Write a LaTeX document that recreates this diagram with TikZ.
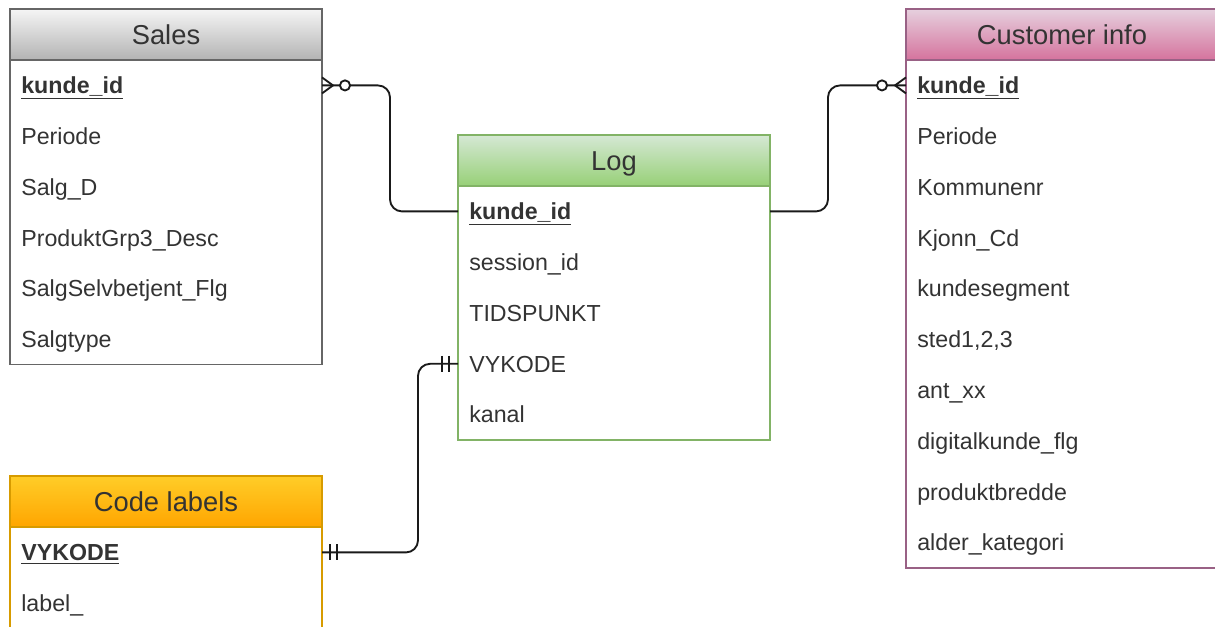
\documentclass[tikz,border=0pt]{standalone}
\usepackage{fontspec}
\setmainfont{Liberation Sans}
\usetikzlibrary{calc}
\definecolor{txt}{HTML}{333333}
\definecolor{salesTop}{HTML}{F5F5F5}
\definecolor{salesBot}{HTML}{B3B3B3}
\definecolor{salesLine}{HTML}{666666}
\definecolor{custTop}{HTML}{E6D0DE}
\definecolor{custBot}{HTML}{D5739D}
\definecolor{custLine}{HTML}{996185}
\definecolor{logTop}{HTML}{D5E8D4}
\definecolor{logBot}{HTML}{97D077}
\definecolor{logLine}{HTML}{82B366}
\definecolor{codeTop}{HTML}{FFCD28}
\definecolor{codeBot}{HTML}{FFA500}
\definecolor{codeLine}{HTML}{D79B00}
\definecolor{connCol}{HTML}{1A1A1A}
\tikzset{
  hdr/.style={anchor=north west, minimum width=234pt, minimum height=38.25pt,
    inner sep=0pt, outer sep=0pt, text=txt, font=\fontsize{20.5pt}{24pt}\selectfont,
    text height=14.7pt, text depth=0pt, line width=1pt},
  row/.style={anchor=north west, minimum width=234pt, minimum height=38.1pt,
    inner xsep=8.5pt, inner ysep=0pt, outer sep=0pt, text width=217pt, align=left, text=txt,
    text height=12.5pt, text depth=0pt,
    font=\fontsize{17.4pt}{20pt}\selectfont},
  boxline/.style={line width=1pt},
  conn/.style={draw=connCol, line width=1.4pt, rounded corners=9pt},
  erdmark/.style={draw=connCol, line width=1.4pt},
}
\newcommand{\pk}[1]{\textbf{\underline{#1}}}
\begin{document}
\begin{tikzpicture}[x=0.75pt,y=-0.75pt]
\useasboundingbox (0,0) rectangle (1215,626);

% ---------- Sales ----------
\node[hdr, top color=salesTop, bottom color=salesBot, draw=salesLine] (sales-h) at (10,9) {Sales};
\node[row] (sales-r1) at (sales-h.south west) {\pk{kunde\_id}};
\node[row] (sales-r2) at (sales-r1.south west) {Periode};
\node[row] (sales-r3) at (sales-r2.south west) {Salg\_D};
\node[row] (sales-r4) at (sales-r3.south west) {ProduktGrp3\_Desc};
\node[row] (sales-r5) at (sales-r4.south west) {SalgSelvbetjent\_Flg};
\node[row] (sales-r6) at (sales-r5.south west) {Salgtype};
\draw[boxline, draw=salesLine] (sales-h.north west) rectangle (sales-r6.south east);

% ---------- Customer info ----------
\node[hdr, top color=custTop, bottom color=custBot, draw=custLine] (cust-h) at (906,9) {Customer info};
\node[row] (cust-r1) at (cust-h.south west) {\pk{kunde\_id}};
\node[row] (cust-r2) at (cust-r1.south west) {Periode};
\node[row] (cust-r3) at (cust-r2.south west) {Kommunenr};
\node[row] (cust-r4) at (cust-r3.south west) {Kjonn\_Cd};
\node[row] (cust-r5) at (cust-r4.south west) {kundesegment};
\node[row] (cust-r6) at (cust-r5.south west) {sted1,2,3};
\node[row] (cust-r7) at (cust-r6.south west) {ant\_xx};
\node[row] (cust-r8) at (cust-r7.south west) {digitalkunde\_flg};
\node[row] (cust-r9) at (cust-r8.south west) {produktbredde};
\node[row] (cust-r10) at (cust-r9.south west) {alder\_kategori};
\draw[boxline, draw=custLine] (cust-h.north west) rectangle (cust-r10.south east);

% ---------- Log ----------
\node[hdr, top color=logTop, bottom color=logBot, draw=logLine] (log-h) at (458,135) {Log};
\node[row] (log-r1) at (log-h.south west) {\pk{kunde\_id}};
\node[row] (log-r2) at (log-r1.south west) {session\_id};
\node[row] (log-r3) at (log-r2.south west) {TIDSPUNKT};
\node[row] (log-r4) at (log-r3.south west) {VYKODE};
\node[row] (log-r5) at (log-r4.south west) {kanal};
\draw[boxline, draw=logLine] (log-h.north west) rectangle (log-r5.south east);

% ---------- Code labels ----------
\node[hdr, top color=codeTop, bottom color=codeBot, draw=codeLine] (code-h) at (10,476) {Code labels};
\node[row] (code-r1) at (code-h.south west) {\pk{VYKODE}};
\node[row] (code-r2) at (code-r1.south west) {label\_};
\draw[boxline, draw=codeLine] (code-h.north west) rectangle (code-r2.south east);

% ---------- Connectors ----------
\coordinate (b1) at (390,0);
\coordinate (b2) at (828,0);
\coordinate (b3) at (418,0);
\draw[conn] (sales-r1.east) -- (sales-r1.east -| b1) |- (log-r1.west);
\draw[conn] (log-r1.east) -- (log-r1.east -| b2) |- (cust-r1.west);
\draw[conn] (code-r1.east) -- (code-r1.east -| b3) |- (log-r4.west);

% zero-or-many at Sales
\draw[erdmark] ($(sales-r1.east)+(0,-8)$) -- ($(sales-r1.east)+(11,0)$) -- ($(sales-r1.east)+(0,8)$);
\draw[erdmark, fill=white] ($(sales-r1.east)+(23,0)$) circle[radius=3.8pt];
% zero-or-many at Customer info
\draw[erdmark] ($(cust-r1.west)+(0,-8)$) -- ($(cust-r1.west)+(-11,0)$) -- ($(cust-r1.west)+(0,8)$);
\draw[erdmark, fill=white] ($(cust-r1.west)+(-24,0)$) circle[radius=3.8pt];
% exactly-one at Log VYKODE
\draw[erdmark] ($(log-r4.west)+(-16,-8)$) -- ($(log-r4.west)+(-16,8)$);
\draw[erdmark] ($(log-r4.west)+(-9,-8)$) -- ($(log-r4.west)+(-9,8)$);
% exactly-one at Code labels VYKODE
\draw[erdmark] ($(code-r1.east)+(8,-8)$) -- ($(code-r1.east)+(8,8)$);
\draw[erdmark] ($(code-r1.east)+(15,-8)$) -- ($(code-r1.east)+(15,8)$);
\end{tikzpicture}
\end{document}
